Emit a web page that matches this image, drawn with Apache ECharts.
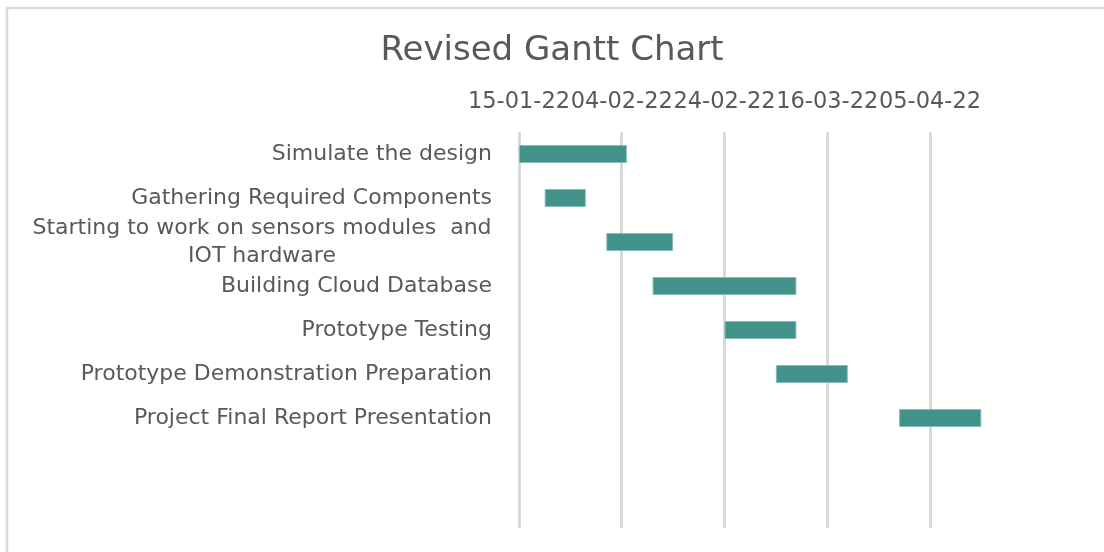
<!DOCTYPE html>
<html>
<head>
<meta charset="utf-8">
<script src="https://cdn.jsdelivr.net/npm/echarts@6/dist/echarts.min.js"></script>
<style>
  html, body { margin: 0; padding: 0; background: #ffffff; }
  #chart { width: 1104px; height: 552px; }
</style>
</head>
<body>
<div id="chart"></div>
<script>
// ---- Data ----
const tasks = [
  'Simulate the design',
  'Gathering Required Components',
  'Starting to work on sensors modules  and\nIOT hardware',
  'Building Cloud Database',
  'Prototype Testing',
  'Prototype Demonstration Preparation',
  'Project Final Report Presentation',
  '',
  ''
];
const startDates = ['2022-01-15', '2022-01-20', '2022-02-01', '2022-02-10', '2022-02-24', '2022-03-06', '2022-03-30'];
const durations = [21, 8, 13, 28, 14, 14, 16];
const tickLabels = ['15-01-22', '04-02-22', '24-02-22', '16-03-22', '05-04-22'];
const projectStart = '2022-01-15';

const DAY = 86400000;
const t0 = Date.parse(projectStart + 'T00:00:00Z');
const offsets = startDates.map(d => Math.round((Date.parse(d + 'T00:00:00Z') - t0) / DAY));

const FONT = '"DejaVu Sans", sans-serif';
const LABEL_SIZE = 22;

// measure first line of wrapped label so the second line can be centred under it
const cv = document.createElement('canvas').getContext('2d');
cv.font = LABEL_SIZE + 'px "DejaVu Sans"';
function fmtLabel(v) {
  if (v.indexOf('\n') < 0) return v;
  return v.split('\n').map(p => '{c|' + p + '}').join('\n');
}
function richFor() {
  const long = tasks.find(t => t.indexOf('\n') >= 0) || '';
  const w = Math.ceil(cv.measureText(long.split('\n')[0]).width);
  return { c: { width: w, align: 'center', fontSize: LABEL_SIZE, fontFamily: FONT, color: '#595959', lineHeight: 28 } };
}

const chart = echarts.init(document.getElementById('chart'), null, { renderer: 'canvas' });
chart.setOption({
  backgroundColor: '#ffffff',
  animation: false,
  title: {
    text: 'Revised Gantt Chart',
    left: 'center',
    top: 29,
    textStyle: { fontFamily: FONT, fontSize: 34, fontWeight: 'normal', color: '#595959' }
  },
  graphic: [{
    type: 'rect',
    shape: { x: 7, y: 8, width: 1200, height: 700 },
    style: { fill: 'none', stroke: '#d9d9d9', lineWidth: 2.5 },
    silent: true
  }],
  grid: { left: 519, top: 132, height: 396, width: 488 },
  xAxis: {
    type: 'value',
    position: 'top',
    min: 0,
    max: 95,
    interval: 20,
    axisLine: { show: false },
    axisTick: { show: false },
    axisLabel: {
      margin: 18,
      showMaxLabel: false,
      fontFamily: FONT,
      fontSize: 22.5,
      color: '#595959',
      formatter: function (v) {
        const i = Math.round(v / 20);
        return (v % 20 === 0 && tickLabels[i]) ? tickLabels[i] : '';
      }
    },
    splitLine: { show: true, showMaxLine: false, lineStyle: { color: '#d9d9d9', width: 3 } }
  },
  yAxis: {
    type: 'category',
    inverse: true,
    data: tasks,
    axisLine: { show: false },
    axisTick: { show: false },
    splitLine: { show: false },
    axisLabel: {
      margin: 27,
      interval: 0,
      fontFamily: FONT,
      fontSize: LABEL_SIZE,
      color: '#595959',
      lineHeight: 28,
      formatter: fmtLabel,
      rich: richFor()
    }
  },
  series: [
    {
      name: 'Start',
      type: 'bar',
      stack: 'gantt',
      barWidth: 18,
      itemStyle: { color: 'transparent' },
      silent: true,
      data: offsets
    },
    {
      name: 'Duration',
      type: 'bar',
      stack: 'gantt',
      barWidth: 18,
      itemStyle: { color: '#43918b', borderColor: '#86bbb6', borderWidth: 1 },
      data: durations
    }
  ]
});
</script>
</body>
</html>
